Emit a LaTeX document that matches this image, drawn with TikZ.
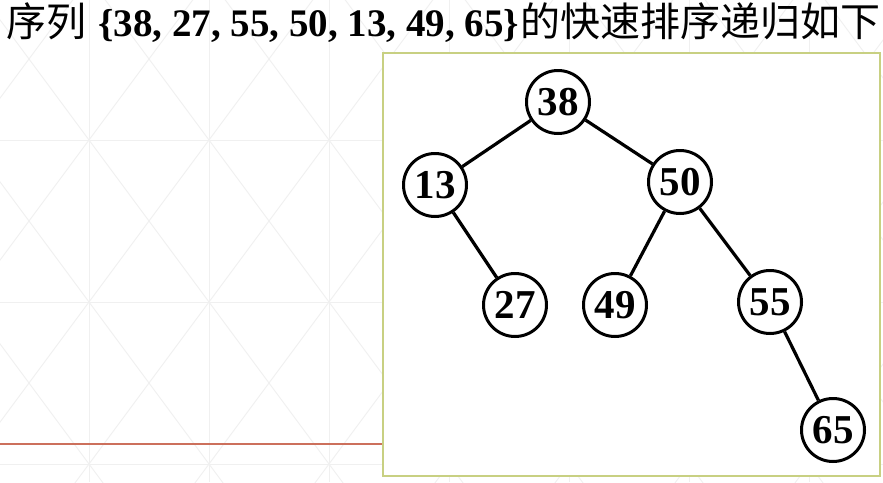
\documentclass[tikz,border=0pt]{standalone}
\usepackage{fontspec}
\setmainfont{Liberation Serif}
\newfontfamily\cjk{Noto Sans CJK SC}
\definecolor{gridc}{RGB}{240,240,240}
\definecolor{accentline}{RGB}{204,112,92}
\definecolor{boxc}{RGB}{200,208,130}
\tikzset{
  treenode/.style={circle, draw=black, line width=3pt, minimum size=63pt, inner sep=0pt, fill=white,
    font=\fontsize{41}{41}\selectfont\bfseries},
  treeedge/.style={line width=3.2pt, black},
  bggrid/.style={gridc, line width=0.9pt},
  titlecjk/.style={inner sep=0pt, font=\cjk\fontsize{40}{48}\selectfont},
  titlelat/.style={inner sep=0pt, font=\fontsize{39}{46}\selectfont\bfseries},
}
\begin{document}
\begin{tikzpicture}[x=1pt,y=-1pt]
\useasboundingbox (0,0) rectangle (883,482);
% slide background
\fill[white] (0,0) rectangle (883,482);
\begin{scope}
\clip (0,0) rectangle (883,482);
\foreach \k in {-1,...,7} {
  \draw[bggrid] (89+120*\k,0) -- (89+120*\k,482);
}
\foreach \m in {-1,...,2} {
  \draw[bggrid] (0,140+162*\m) -- (883,140+162*\m);
}
\foreach \k in {-6,...,10} {
  \draw[bggrid] (89+120*\k-360,140-486) -- (89+120*\k+360,140+486);
  \draw[bggrid] (89+120*\k+360,140-486) -- (89+120*\k-360,140+486);
}
\end{scope}
\draw[accentline, line width=2pt] (0,444) -- (383,444);
% title
\node[titlecjk, anchor=base west] (t1) at (6,36) {序列};
\node[titlelat, anchor=base west] (t2) at (98,36) {\{38, 27, 55, 50, 13, 49, 65\}};
\node[titlecjk, anchor=base east] (t3) at (881,36) {的快速排序递归如下};
% box
\draw[boxc, line width=2pt, fill=white] (383,53) rectangle (880,476);
% tree
\node[treenode] (n38) at (558,102) {38};
\node[treenode] (n13) at (435,185) {13};
\node[treenode] (n50) at (680,182) {50};
\node[treenode] (n27) at (515,305) {27};
\node[treenode] (n49) at (615,305) {49};
\node[treenode] (n55) at (770,302) {55};
\node[treenode] (n65) at (833,430) {65};
\draw[treeedge] (n38) -- (n13);
\draw[treeedge] (n38) -- (n50);
\draw[treeedge] (n13) -- (n27);
\draw[treeedge] (n50) -- (n49);
\draw[treeedge] (n50) -- (n55);
\draw[treeedge] (n55) -- (n65);
\end{tikzpicture}
\end{document}
